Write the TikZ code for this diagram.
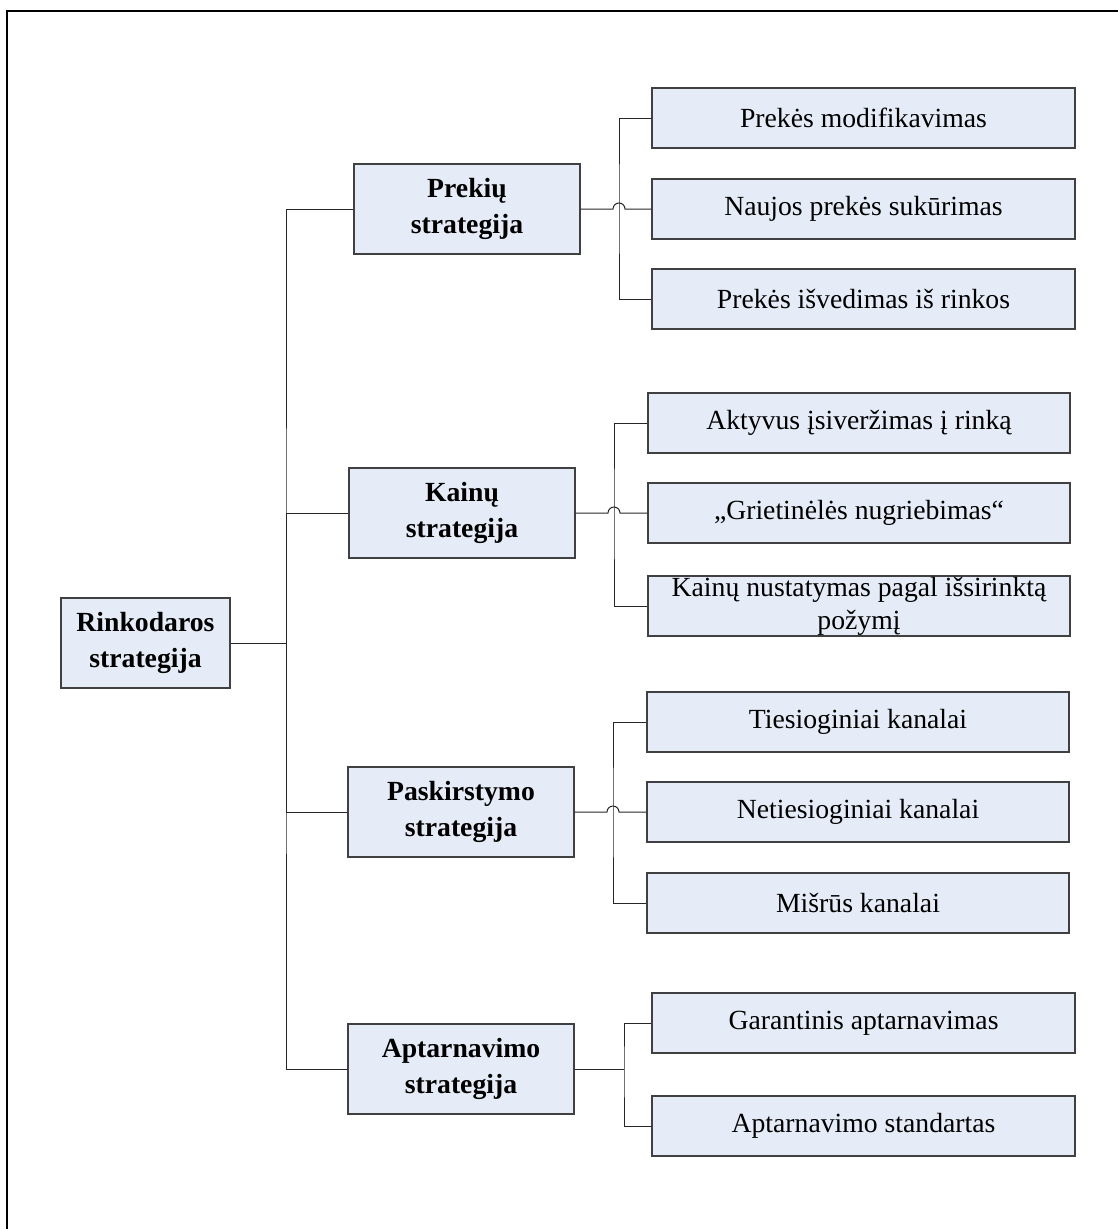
\documentclass[tikz,border=0pt]{standalone}
\usepackage{fontspec}
\setmainfont{Liberation Serif}
\definecolor{boxfill}{RGB}{230,236,247}
\begin{document}
\begin{tikzpicture}[x=1pt,y=-1pt,
  every node/.style={font=\fontsize{27.7}{32}\selectfont},
  basebox/.style={draw=black!75, line width=1.2pt, fill=boxfill, inner sep=0pt, align=center},
  mainbox/.style={basebox, minimum width=226, minimum height=90, font=\fontsize{27.7}{35.5}\selectfont\bfseries},
  rootbox/.style={basebox, minimum width=169, minimum height=90, font=\fontsize{27.7}{35.5}\selectfont\bfseries},
  subbox/.style={basebox, minimum width=423, minimum height=60},
  conn/.style={draw=black!85, line width=1pt},
  hop/.style={conn}]
\useasboundingbox (0,0) rectangle (1118,1229);
\draw[line width=2pt] (7,1229) -- (7,11) -- (1118,11);

% root
\node[rootbox] (root) at (145.5,643) {Rinkodaros\\strategija};

% level 2
\node[mainbox] (p) at (467,209) {Prekių\\strategija};
\node[mainbox] (k) at (462,513) {Kainų\\strategija};
\node[mainbox] (d) at (461,812) {Paskirstymo\\strategija};
\node[mainbox] (a) at (461,1069) {Aptarnavimo\\strategija};

% level 3
\node[subbox] (p1) at (863.5,118) {Prekės modifikavimas};
\node[subbox] (p2) at (863.5,209) {Naujos prekės sukūrimas};
\node[subbox] (p3) at (863.5,299) {Prekės išvedimas iš rinkos};

\node[subbox, minimum width=422] (k1) at (859,423) {Aktyvus įsiveržimas į rinką};
\node[subbox, minimum width=422] (k2) at (859,513) {„Grietinėlės nugriebimas“};
\node[subbox, minimum width=422, font=\fontsize{27.7}{33}\selectfont] (k3) at (859,606) {Kainų nustatymas pagal išsirinktą\\požymį};

\node[subbox, minimum width=422] (d1) at (858,722) {Tiesioginiai kanalai};
\node[subbox, minimum width=422] (d2) at (858,812) {Netiesioginiai kanalai};
\node[subbox, minimum width=422] (d3) at (858,903) {Mišrūs kanalai};

\node[subbox] (a1) at (863.5,1023) {Garantinis aptarnavimas};
\node[subbox] (a2) at (863.5,1126) {Aptarnavimo standartas};

% trunk
\coordinate (trunk) at (286,643);
\draw[conn] (root.east) -- (trunk);
\draw[conn] (p.west) -| (trunk) |- (a.west);
\draw[conn] (trunk) |- (k.west);
\draw[conn] (trunk) |- (d.west);

% group buses
\coordinate (bp) at (619,209);
\coordinate (bk) at (614,513);
\coordinate (bd) at (613,812);
\coordinate (ba) at (624,1069);

\draw[conn] (p1.west) -| (bp) |- (p3.west);
\draw[hop] (p.east) -- ([xshift=-6pt]bp) arc[start angle=180, end angle=360, radius=6] -- (p2.west);

\draw[conn] (k1.west) -| (bk) |- (k3.west);
\draw[hop] (k.east) -- ([xshift=-6pt]bk) arc[start angle=180, end angle=360, radius=6] -- (k2.west);

\draw[conn] (d1.west) -| (bd) |- (d3.west);
\draw[hop] (d.east) -- ([xshift=-6pt]bd) arc[start angle=180, end angle=360, radius=6] -- (d2.west);

\draw[conn] (a1.west) -| (ba) |- (a2.west);
\draw[conn] (a.east) -- (ba);
\end{tikzpicture}
\end{document}
